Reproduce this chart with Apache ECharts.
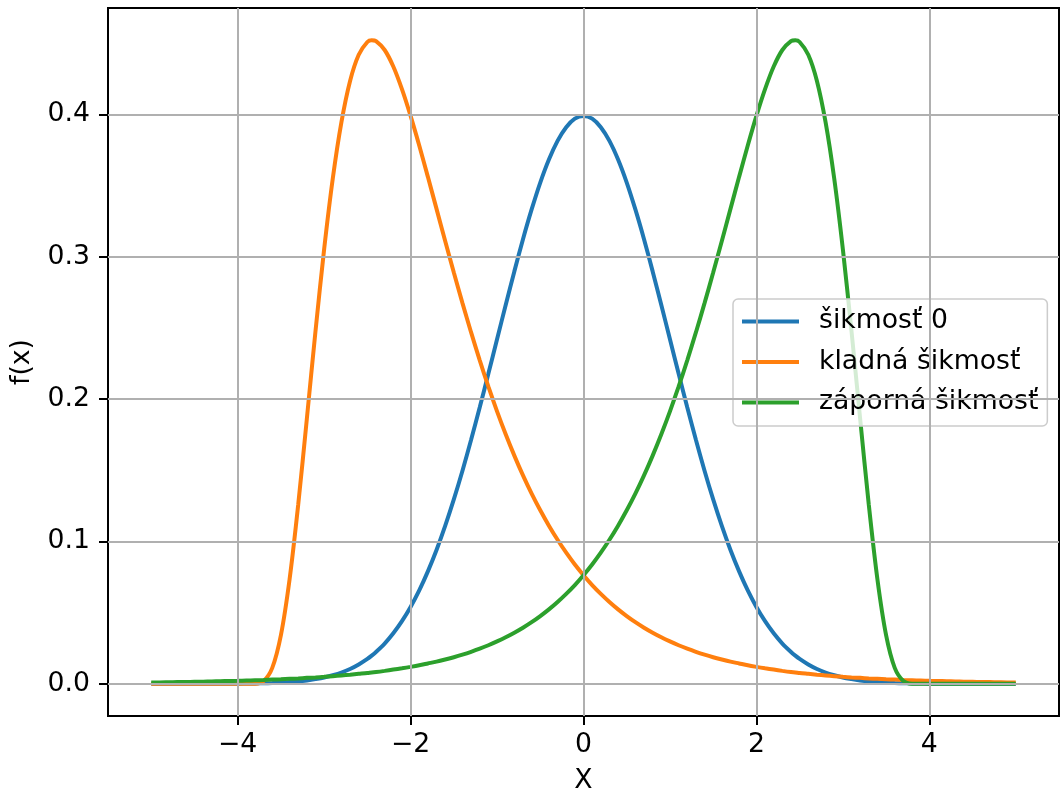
<!DOCTYPE html>
<html>
<head>
<meta charset="utf-8">
<script src="https://cdn.jsdelivr.net/npm/echarts@6/dist/echarts.min.js"></script>
<style>
  html, body { margin: 0; padding: 0; background: #ffffff; }
  #chart { width: 1061px; height: 794px; }
</style>
</head>
<body>
<div id="chart"></div>
<script>
// Sample positions on the X axis (extra samples at the skewed peaks)
const xs = [
  -5.0, -4.9, -4.8, -4.7, -4.6, -4.5, -4.4, -4.3, -4.2, -4.1,
  -4.0, -3.9, -3.8, -3.7, -3.6, -3.5, -3.4, -3.3, -3.2, -3.1,
  -3.0, -2.9, -2.8, -2.7, -2.6, -2.5, -2.45, -2.4, -2.3, -2.2, -2.1,
  -2.0, -1.9, -1.8, -1.7, -1.6, -1.5, -1.4, -1.3, -1.2, -1.1,
  -1.0, -0.9, -0.8, -0.7, -0.6, -0.5, -0.4, -0.3, -0.2, -0.1,
  0.0,
  0.1, 0.2, 0.3, 0.4, 0.5, 0.6, 0.7, 0.8, 0.9, 1.0,
  1.1, 1.2, 1.3, 1.4, 1.5, 1.6, 1.7, 1.8, 1.9, 2.0,
  2.1, 2.2, 2.3, 2.4, 2.45, 2.5, 2.6, 2.7, 2.8, 2.9, 3.0,
  3.1, 3.2, 3.3, 3.4, 3.5, 3.6, 3.7, 3.8, 3.9, 4.0,
  4.1, 4.2, 4.3, 4.4, 4.5, 4.6, 4.7, 4.8, 4.9, 5.0
];

// f(x) of the symmetric curve
const symetricka = [
  0.0000, 0.0000, 0.0000, 0.0000, 0.0000, 0.0000, 0.0000, 0.0000, 0.0001, 0.0001,
  0.0001, 0.0002, 0.0003, 0.0004, 0.0006, 0.0009, 0.0012, 0.0017, 0.0024, 0.0033,
  0.0044, 0.0060, 0.0079, 0.0104, 0.0136, 0.0175, 0.0198, 0.0224, 0.0283, 0.0355, 0.0440,
  0.0540, 0.0656, 0.0790, 0.0940, 0.1109, 0.1295, 0.1497, 0.1714, 0.1942, 0.2179,
  0.2420, 0.2661, 0.2897, 0.3123, 0.3332, 0.3521, 0.3683, 0.3814, 0.3910, 0.3970,
  0.3989,
  0.3970, 0.3910, 0.3814, 0.3683, 0.3521, 0.3332, 0.3123, 0.2897, 0.2661, 0.2420,
  0.2179, 0.1942, 0.1714, 0.1497, 0.1295, 0.1109, 0.0940, 0.0790, 0.0656, 0.0540,
  0.0440, 0.0355, 0.0283, 0.0224, 0.0198, 0.0175, 0.0136, 0.0104, 0.0079, 0.0060, 0.0044,
  0.0033, 0.0024, 0.0017, 0.0012, 0.0009, 0.0006, 0.0004, 0.0003, 0.0002, 0.0001,
  0.0001, 0.0001, 0.0000, 0.0000, 0.0000, 0.0000, 0.0000, 0.0000, 0.0000, 0.0000
];

// f(x) of the right-skewed curve
const kladna = [
  0, 0, 0, 0, 0, 0, 0, 0, 0, 0,
  0, 0.0000, 0.0001, 0.0020, 0.0112, 0.0342, 0.0733, 0.1258, 0.1861, 0.2477,
  0.3052, 0.3549, 0.3945, 0.4235, 0.4419, 0.4508, 0.4520, 0.4514, 0.4452, 0.4336, 0.4177,
  0.3989, 0.3781, 0.3561, 0.3336, 0.3111, 0.2889, 0.2674, 0.2468, 0.2272, 0.2087,
  0.1914, 0.1753, 0.1603, 0.1464, 0.1336, 0.1219, 0.1111, 0.1012, 0.0921, 0.0838,
  0.0763,
  0.0694, 0.0632, 0.0575, 0.0523, 0.0476, 0.0433, 0.0394, 0.0359, 0.0327, 0.0298,
  0.0271, 0.0247, 0.0225, 0.0205, 0.0187, 0.0171, 0.0156, 0.0143, 0.0130, 0.0119,
  0.0109, 0.0100, 0.0091, 0.0083, 0.0080, 0.0076, 0.0070, 0.0064, 0.0059, 0.0054, 0.0049,
  0.0045, 0.0042, 0.0038, 0.0035, 0.0032, 0.0030, 0.0027, 0.0025, 0.0023, 0.0021,
  0.0020, 0.0018, 0.0017, 0.0015, 0.0014, 0.0013, 0.0012, 0.0011, 0.0010, 0.0010
];

// f(x) of the left-skewed curve
const zaporna = [
  0.0010, 0.0010, 0.0011, 0.0012, 0.0013, 0.0014, 0.0015, 0.0017, 0.0018, 0.0020,
  0.0021, 0.0023, 0.0025, 0.0027, 0.0030, 0.0032, 0.0035, 0.0038, 0.0042, 0.0045,
  0.0049, 0.0054, 0.0059, 0.0064, 0.0070, 0.0076, 0.0080, 0.0083, 0.0091, 0.0100, 0.0109,
  0.0119, 0.0130, 0.0143, 0.0156, 0.0171, 0.0187, 0.0205, 0.0225, 0.0247, 0.0271,
  0.0298, 0.0327, 0.0359, 0.0394, 0.0433, 0.0476, 0.0523, 0.0575, 0.0632, 0.0694,
  0.0763,
  0.0838, 0.0921, 0.1012, 0.1111, 0.1219, 0.1336, 0.1464, 0.1603, 0.1753, 0.1914,
  0.2087, 0.2272, 0.2468, 0.2674, 0.2889, 0.3111, 0.3336, 0.3561, 0.3781, 0.3989,
  0.4177, 0.4336, 0.4452, 0.4514, 0.4520, 0.4508, 0.4419, 0.4235, 0.3945, 0.3549, 0.3052,
  0.2477, 0.1861, 0.1258, 0.0733, 0.0342, 0.0112, 0.0020, 0.0001, 0.0000, 0,
  0, 0, 0, 0, 0, 0, 0, 0, 0, 0
];

const seriesNames = ['šikmosť 0', 'kladná šikmosť', 'záporná šikmosť'];
const seriesColors = ['#1f77b4', '#ff7f0e', '#2ca02c'];

// Tick positions
const xTicks = [-4, -2, 0, 2, 4];
const yTicks = [0.0, 0.1, 0.2, 0.3, 0.4];

const FONT = 'DejaVu Sans';
const FS = 26.7;

const pairs = arr => xs.map((x, i) => [x, arr[i]]);

const gridLines = [
  ...xTicks.map(v => ({ xAxis: v })),
  ...yTicks.map(v => ({ yAxis: v }))
];

const curveSeries = [symetricka, kladna, zaporna].map((arr, i) => ({
  name: seriesNames[i],
  type: 'line',
  data: pairs(arr),
  symbol: 'none',
  showSymbol: false,
  smooth: 0.3,
  z: 3,
  lineStyle: { color: seriesColors[i], width: 4 },
  itemStyle: { color: seriesColors[i] },
  emphasis: { disabled: true }
}));

const chart = echarts.init(document.getElementById('chart'), null, { renderer: 'canvas' });

chart.setOption({
  animation: false,
  backgroundColor: '#ffffff',
  textStyle: { fontFamily: FONT },
  grid: {
    left: 108, right: 2, top: 8, bottom: 78,
    outerBoundsMode: 'none',
    containLabel: false,
    show: true, borderColor: '#000000', borderWidth: 2,
    backgroundColor: 'transparent'
  },
  legend: {
    orient: 'vertical',
    left: 733,
    top: 299,
    data: seriesNames.map((n, i) => ({ name: n, icon: 'rect', itemStyle: { color: seriesColors[i] } })),
    itemWidth: 57,
    itemHeight: 4,
    itemGap: 13.5,
    padding: [9, 9, 10, 9],
    backgroundColor: 'rgba(255,255,255,0.8)',
    borderColor: '#cccccc',
    borderWidth: 1.5,
    borderRadius: 5,
    selectedMode: false,
    textStyle: {
      fontFamily: FONT, fontSize: FS, color: '#000000',
      lineHeight: 26, padding: [0, 0, 0, 15]
    }
  },
  xAxis: {
    type: 'value',
    min: -5.5,
    max: 5.5,
    name: 'X',
    nameLocation: 'middle',
    nameGap: 52,
    nameTextStyle: { fontFamily: FONT, fontSize: FS, color: '#000000' },
    axisLine: { show: true, onZero: false, lineStyle: { color: '#000000', width: 2 } },
    axisTick: {
      show: true, inside: false, length: 9,
      customValues: xTicks,
      lineStyle: { color: '#000000', width: 2 }
    },
    axisLabel: {
      show: true, margin: 16,
      customValues: xTicks,
      fontFamily: FONT, fontSize: FS, color: '#000000',
      formatter: v => String(v).replace('-', '\u2212')
    },
    splitLine: { show: false }
  },
  yAxis: {
    type: 'value',
    min: -0.0226,
    max: 0.4747,
    name: 'f(x)',
    nameLocation: 'middle',
    nameRotate: 90,
    nameGap: 72,
    nameTextStyle: { fontFamily: FONT, fontSize: FS, color: '#000000' },
    axisLine: { show: true, onZero: false, lineStyle: { color: '#000000', width: 2 } },
    axisTick: {
      show: true, inside: false, length: 9,
      customValues: yTicks,
      lineStyle: { color: '#000000', width: 2 }
    },
    axisLabel: {
      show: true, margin: 18,
      customValues: yTicks,
      fontFamily: FONT, fontSize: FS, color: '#000000',
      formatter: v => Number(v).toFixed(1)
    },
    splitLine: { show: false }
  },
  series: [
    {
      name: 'grid',
      type: 'line',
      data: [],
      z: 1,
      silent: true,
      markLine: {
        silent: true,
        symbol: ['none', 'none'],
        label: { show: false },
        lineStyle: { color: '#b0b0b0', width: 2, type: 'solid' },
        emphasis: { disabled: true },
        animation: false,
        data: gridLines
      }
    },
    ...curveSeries
  ]
});
</script>
</body>
</html>
